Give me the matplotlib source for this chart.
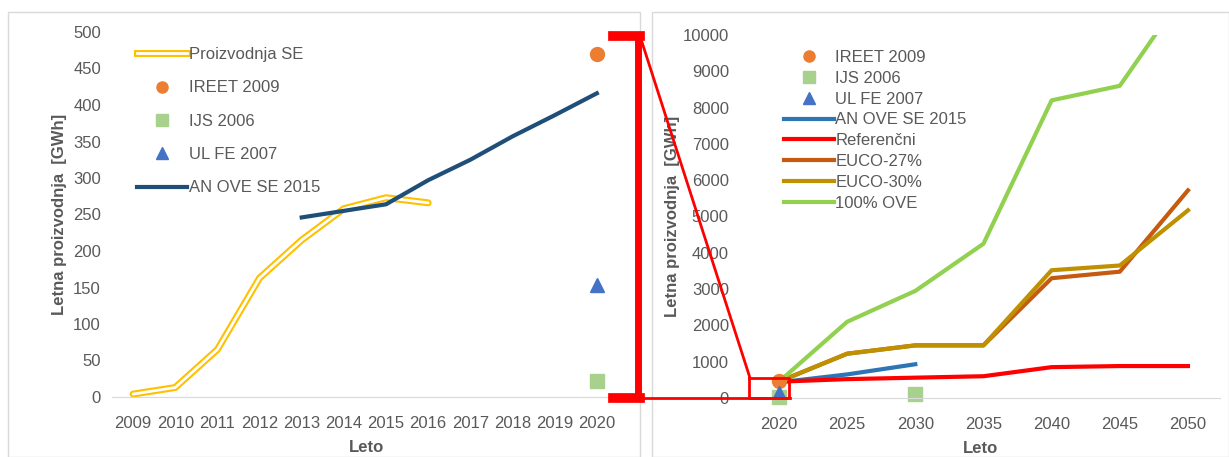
import matplotlib
matplotlib.use("Agg")
import matplotlib.pyplot as plt
from matplotlib.lines import Line2D
from matplotlib.patches import Rectangle

plt.rcParams['font.family'] = ['Liberation Sans', 'DejaVu Sans']

# levi graf
leta_l = [2009, 2010, 2011, 2012, 2013, 2014, 2015, 2016, 2017, 2018, 2019, 2020]
proizvodnja_let = [2009, 2010, 2011, 2012, 2013, 2014, 2015, 2016]
proizvodnja_se = [4, 13, 65, 163, 215, 258, 273, 266]
anove_let_l = [2013, 2014, 2015, 2016, 2017, 2018, 2019, 2020]
anove_l = [246, 255, 264, 297, 325, 357, 386, 416]
ireet = 470
ijs_2020 = 22
ulfe = 153

# desni graf
leta_d = [2020, 2025, 2030, 2035, 2040, 2045, 2050]
anove_let_d = [2020, 2025, 2030]
anove_d = [430, 650, 930]
referencni = [450, 520, 560, 600, 850, 880, 880]
euco27 = [450, 1220, 1450, 1450, 3300, 3480, 5720]
euco30 = [450, 1220, 1450, 1450, 3520, 3650, 5170]
ove100 = [450, 2100, 2950, 4250, 8200, 8600, 11300]
ijs_let_d = [2020, 2030]
ijs_d = [20, 100]

fig = plt.figure(figsize=(12.29, 4.57), dpi=100)
W, H = 1229, 457

def box(x0, y0, x1, y1):
    return [x0 / W, 1 - y1 / H, (x1 - x0) / W, (y1 - y0) / H]

# okvirja panelov
for x0, x1 in [(8, 640), (652, 1229)]:
    fig.add_artist(Rectangle((x0 / W, 0), (x1 - x0) / W, 1 - 12 / H, transform=fig.transFigure,
                             fill=False, edgecolor='#d9d9d9', lw=1))

tc = '#595959'
orange, lgreen, blue, navy = '#ed7d31', '#a9d18e', '#4472c4', '#1f4e79'

ax1 = fig.add_axes(box(112, 32, 620, 397))
ax1.plot(proizvodnja_let, proizvodnja_se, color='#ffc000', lw=5, solid_capstyle='round')
ax1.plot(proizvodnja_let, proizvodnja_se, color='white', lw=2, solid_capstyle='round')
ax1.plot(anove_let_l, anove_l, color=navy, lw=3)
ax1.plot([2020], [ireet], 'o', color=orange, ms=10)
ax1.plot([2020], [ijs_2020], 's', color=lgreen, ms=10)
ax1.plot([2020], [ulfe], '^', color=blue, ms=10)
ax1.set_xlim(2008.5, 2020.55)
ax1.set_ylim(0, 500)
ax1.set_xticks(leta_l)
ax1.set_yticks(range(0, 501, 50))
ax1.set_xlabel('Leto', fontsize=12, fontweight='bold', color=tc, labelpad=6)
ax1.set_ylabel('Letna proizvodnja  [GWh]', fontsize=12, fontweight='bold', color=tc)

h1 = [(Line2D([], [], color='#ffc000', lw=5), Line2D([], [], color='white', lw=2)),
      Line2D([], [], ls='', marker='o', color=orange, ms=8),
      Line2D([], [], ls='', marker='s', color=lgreen, ms=8),
      Line2D([], [], ls='', marker='^', color=blue, ms=8),
      Line2D([], [], color=navy, lw=3)]
ax1.legend(h1, ['Proizvodnja SE', 'IREET 2009', 'IJS 2006', 'UL FE 2007', 'AN OVE SE 2015'],
           loc='upper left', bbox_to_anchor=(0.02, 1.0), frameon=False, fontsize=12,
           labelcolor=tc, labelspacing=1.1, handlelength=3, handletextpad=0.1)

ax2 = fig.add_axes(box(740, 35, 1220, 398))
ax2.plot(anove_let_d, anove_d, color='#2e75b6', lw=3)
ax2.plot(leta_d, referencni, color='#ff0000', lw=3)
ax2.plot(leta_d, euco27, color='#c55a11', lw=3)
ax2.plot(leta_d, euco30, color='#bf9000', lw=3)
ax2.plot(leta_d, ove100, color='#92d050', lw=3)
ax2.plot([2020], [ireet], 'o', color=orange, ms=10, zorder=5)
ax2.plot(ijs_let_d, ijs_d, 's', color=lgreen, ms=10, ls='', clip_on=False)
ax2.plot([2020], [ulfe], '^', color=blue, ms=8, zorder=5)
ax2.set_xlim(2017.14, 2052.35)
ax2.set_ylim(0, 10000)
ax2.set_xticks(leta_d)
ax2.set_yticks(range(0, 10001, 1000))
ax2.set_xlabel('Leto', fontsize=12, fontweight='bold', color=tc, labelpad=6)
ax2.set_ylabel('Letna proizvodnja  [GWh]', fontsize=12, fontweight='bold', color=tc)
ax2.yaxis.set_label_coords(-0.125, 0.5)

h2 = [Line2D([], [], ls='', marker='o', color=orange, ms=8),
      Line2D([], [], ls='', marker='s', color=lgreen, ms=8),
      Line2D([], [], ls='', marker='^', color=blue, ms=8),
      Line2D([], [], color='#2e75b6', lw=3),
      Line2D([], [], color='#ff0000', lw=3),
      Line2D([], [], color='#c55a11', lw=3),
      Line2D([], [], color='#bf9000', lw=3),
      Line2D([], [], color='#92d050', lw=3)]
ax2.legend(h2, ['IREET 2009', 'IJS 2006', 'UL FE 2007', 'AN OVE SE 2015', 'Referenčni',
                'EUCO-27%', 'EUCO-30%', '100% OVE'],
           loc='upper left', bbox_to_anchor=(0.06, 1.0), frameon=False, fontsize=12,
           labelcolor=tc, labelspacing=0.35, handlelength=3, handletextpad=0.1)

for ax in (ax1, ax2):
    for s in ('top', 'right', 'left'):
        ax.spines[s].set_visible(False)
    ax.spines['bottom'].set_color('#d9d9d9')
    ax.tick_params(length=0, labelsize=12, labelcolor=tc)
    ax.tick_params(axis='x', pad=14)
    ax.tick_params(axis='y', pad=8)

# rdeča povezava med grafoma
def fl(xs, ys, lw):
    fig.add_artist(Line2D([x / W for x in xs], [1 - y / H for y in ys],
                          transform=fig.transFigure, color='#ff0000', lw=lw))

fl([638, 638], [36, 398], 5)
fl([613, 640], [36, 36], 7)
fl([613, 640], [398, 398], 7)
fl([640, 750], [36, 378], 2)
fl([640, 790], [398, 398], 2)
fl([749, 789, 789, 749, 749], [378, 378, 398, 398, 378], 2)

fig.savefig('out.png', dpi=100)
